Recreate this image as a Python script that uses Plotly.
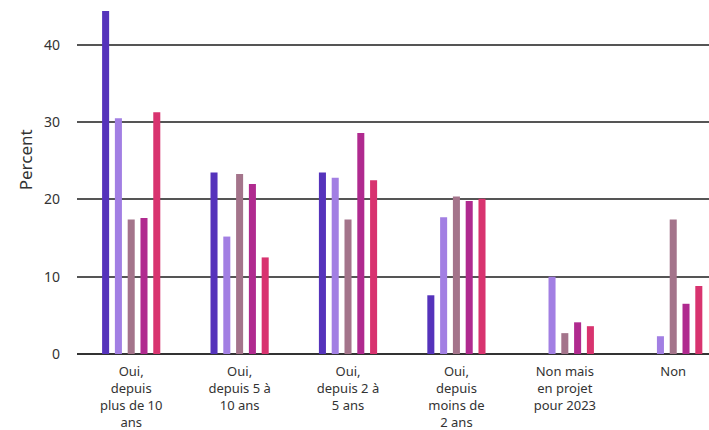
import plotly.graph_objects as go

categories = [
    "Oui,<br>depuis<br>plus de 10<br>ans",
    "Oui,<br>depuis 5 à<br>10 ans",
    "Oui,<br>depuis 2 à<br>5 ans",
    "Oui,<br>depuis<br>moins de<br>2 ans",
    "Non mais<br>en projet<br>pour 2023",
    "Non",
]
series_names = ["Série 1", "Série 2", "Série 3", "Série 4", "Série 5"]
s1 = [44.4, 23.5, 23.5, 7.6, None, None]
s2 = [30.5, 15.2, 22.8, 17.7, 10.0, 2.3]
s3 = [17.4, 23.3, 17.4, 20.4, 2.7, 17.4]
s4 = [17.6, 22.0, 28.6, 19.8, 4.1, 6.5]
s5 = [31.3, 12.5, 22.5, 20.1, 3.6, 8.8]
values = [s1, s2, s3, s4, s5]
colors = ["#5533bb", "#a27fe3", "#a4748b", "#b02a8f", "#d8336f"]

fig = go.Figure()
for name, vals, col in zip(series_names, values, colors):
    fig.add_trace(go.Bar(x=categories, y=vals, name=name, marker_color=col,
                         marker_line_width=0, showlegend=False))

font_family = "Noto Sans, Open Sans, sans-serif"
fig.update_layout(
    width=709, height=430,
    margin=dict(l=77, r=0, t=4, b=76),
    barmode="group", bargap=0.41, bargroupgap=0.45,
    plot_bgcolor="white", paper_bgcolor="white",
    font=dict(family=font_family, size=13, color="#333333"),
    xaxis=dict(range=[-0.5, 5.33], showgrid=False, ticks="", showline=False,
               automargin=False, ticklabelstandoff=8,
               tickfont=dict(size=13, color="#333333")),
    yaxis=dict(range=[0, 45.3], tickvals=[0, 10, 20, 30, 40], showgrid=True,
               gridcolor="#555555", gridwidth=1.5, zeroline=True,
               zerolinecolor="#333333", zerolinewidth=1.5, automargin=False,
               tickfont=dict(size=14, color="#333333"), ticklabelstandoff=16),
    annotations=[dict(text="Percent", xref="paper", yref="paper",
                      x=-0.082, y=0.554, textangle=-90, showarrow=False,
                      xanchor="center", yanchor="middle",
                      font=dict(size=17, color="#333333", family=font_family))],
)
fig.write_html("out.html", config={"displayModeBar": False},
               post_script="document.body.style.margin='0';document.body.style.overflow='hidden';")
